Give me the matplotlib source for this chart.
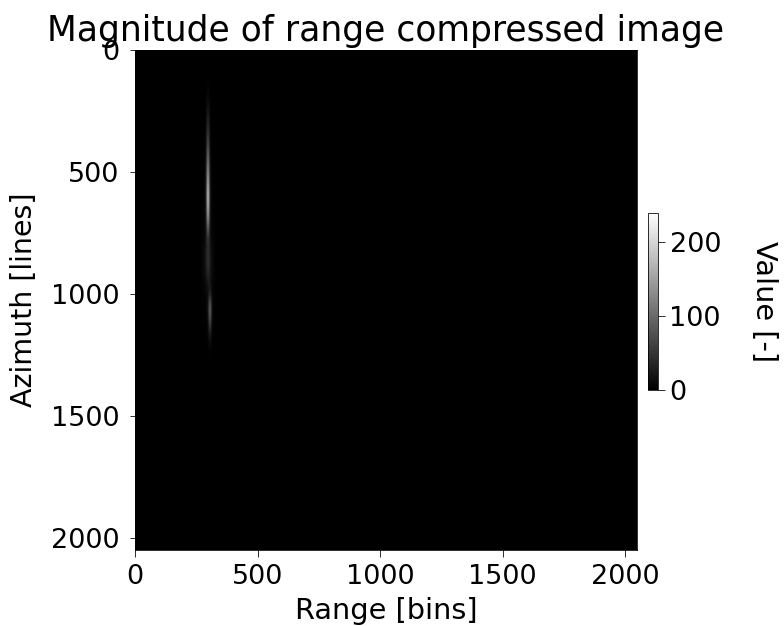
import matplotlib
matplotlib.use("Agg")
import matplotlib.pyplot as plt
import numpy as np

# azimuth lines / range bins of the patch around the target, everything else is ~0
azimuth_lines = [100, 150, 200, 250, 300, 350, 400, 450, 500, 550, 600, 650, 700,
                 750, 800, 850, 900, 950, 1000, 1050, 1100, 1150, 1200, 1250, 1300]
range_bins = [272, 280, 288, 296, 304, 312, 320]
magnitude = [
    [0, 0, 0, 0, 0, 0, 0],
    [0, 0, 0, 3, 0, 0, 0],
    [0, 0, 1, 14, 1, 0, 0],
    [0, 0, 2, 28, 2, 0, 0],
    [0, 0, 3, 48, 3, 0, 0],
    [0, 1, 4, 70, 4, 1, 0],
    [0, 1, 6, 100, 6, 1, 0],
    [1, 1, 8, 135, 8, 1, 0],
    [1, 1, 10, 175, 10, 1, 1],
    [1, 2, 12, 205, 12, 2, 1],
    [2, 2, 14, 239, 14, 2, 1],
    [2, 2, 14, 215, 14, 3, 2],
    [3, 3, 12, 170, 12, 3, 2],
    [3, 4, 12, 90, 12, 4, 3],
    [4, 8, 20, 48, 22, 8, 4],
    [4, 10, 24, 55, 28, 10, 4],
    [4, 10, 22, 50, 26, 10, 4],
    [3, 6, 12, 26, 22, 6, 3],
    [2, 3, 5, 10, 36, 4, 2],
    [2, 2, 4, 12, 130, 5, 2],
    [1, 1, 3, 8, 105, 4, 1],
    [1, 1, 1, 4, 50, 2, 1],
    [0, 1, 1, 2, 12, 1, 0],
    [0, 0, 0, 0, 2, 0, 0],
    [0, 0, 0, 0, 0, 0, 0],
]
bin_step = 8
line_step = 50

plt.rcParams["font.size"] = 27
plt.rcParams["xtick.major.size"] = 7
plt.rcParams["ytick.major.size"] = 5.5
plt.rcParams["xtick.major.pad"] = 7
plt.rcParams["ytick.major.pad"] = 10
fig = plt.figure(figsize=(784 / 72, 626 / 72), dpi=72)
ax = fig.add_axes([135 / 784, 1 - 550 / 626, 502 / 784, 500 / 626])
ax.set_facecolor("black")

extent = (range_bins[0] - bin_step / 2, range_bins[-1] + bin_step / 2,
          azimuth_lines[-1] + line_step / 2, azimuth_lines[0] - line_step / 2)
im = ax.imshow(np.array(magnitude), cmap="gray", vmin=0, vmax=239, aspect="auto",
               extent=extent, interpolation="bicubic")
ax.set_xlim(0, 2048)
ax.set_ylim(2048, 0)
ax.set_xticks([0, 500, 1000, 1500, 2000])
ax.set_yticks([0, 500, 1000, 1500, 2000])
ax.set_xlabel("Range [bins]", fontsize=28.8, labelpad=7)
ax.set_ylabel("Azimuth [lines]", fontsize=28.5, labelpad=13)
ax.set_title("Magnitude of range compressed image", fontsize=34.5, pad=9)

cax = fig.add_axes([648 / 784, 1 - 390 / 626, 9.5 / 784, 177 / 626])
cbar = fig.colorbar(im, cax=cax)
cbar.set_ticks([0, 100, 200])
cbar.ax.tick_params(length=7, pad=5)
cbar.set_label("Value [-]", rotation=270, labelpad=57, fontsize=28.8)

plt.savefig("out.png", dpi=72)
plt.close()
